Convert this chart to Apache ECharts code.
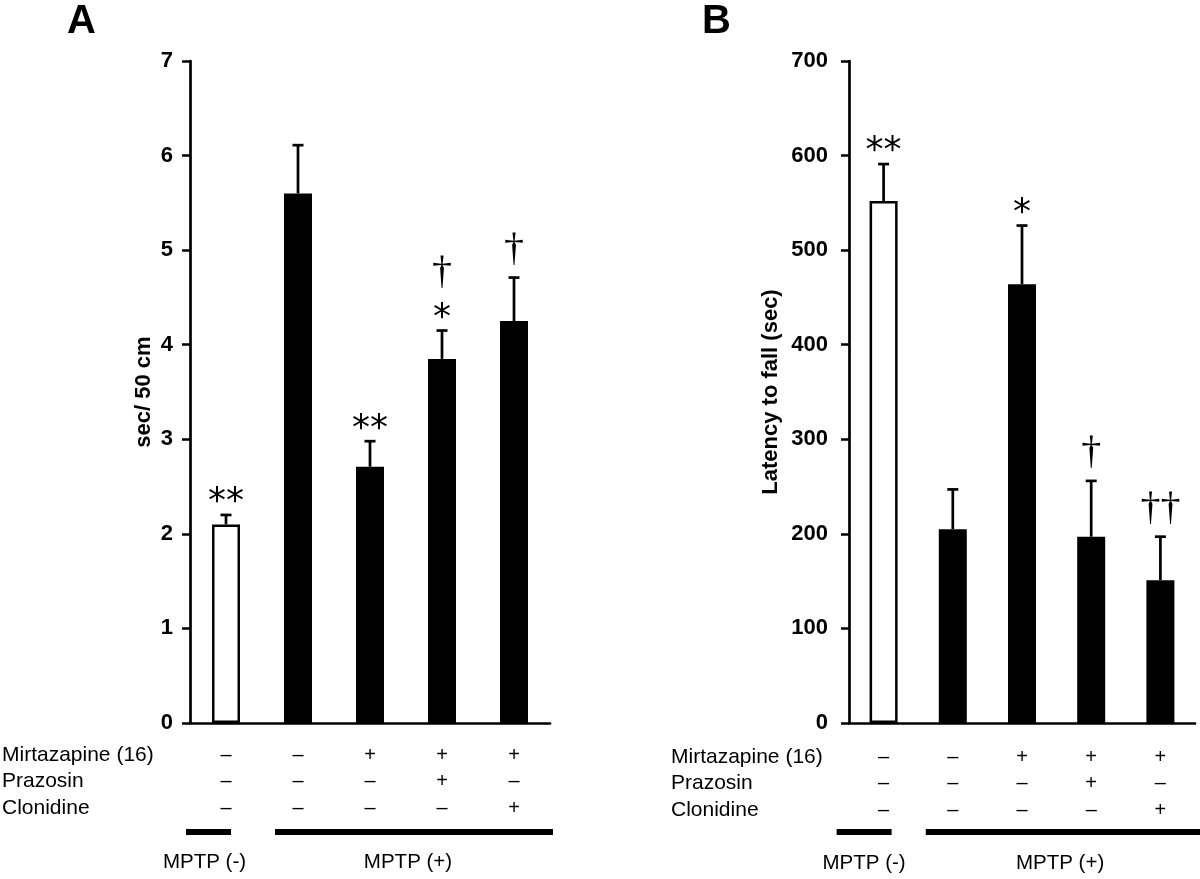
<!DOCTYPE html>
<html>
<head>
<meta charset="utf-8">
<script src="https://cdn.jsdelivr.net/npm/echarts@6/dist/echarts.min.js"></script>
<style>
html,body{margin:0;padding:0;background:#fff;}
#main{width:1200px;height:879px;}
</style>
</head>
<body>
<div id="main"></div>
<script>
// ---- data ----
const groups = ['MPTP(-)', 'MPTP(+)', 'MPTP(+) Mirt', 'MPTP(+) Mirt+Praz', 'MPTP(+) Mirt+Clon'];
const mirtazapine = ['–', '–', '+', '+', '+'];
const prazosin    = ['–', '–', '–', '+', '–'];
const clonidine   = ['–', '–', '–', '–', '+'];
const rowLabels   = ['Mirtazapine (16)', 'Prazosin', 'Clonidine'];

const meanA = [2.10, 5.60, 2.71, 3.85, 4.25];
const semA  = [0.10, 0.51, 0.27, 0.30, 0.46];
const sigA  = [['**'], [], ['**'], ['*', '†'], ['†']];

const meanB = [552, 205, 464, 197, 151];
const semB  = [39, 42, 62, 59, 46];
const sigB  = [['**'], [], ['*'], ['†'], ['††']];

const yTicksA = [0, 7, 1];
const yTicksB = [0, 700, 100];

// ---- chart ----
const chart = echarts.init(document.getElementById('main'));
const FONT = '"Liberation Sans", Arial, sans-serif';
const SYM = '"DejaVu Sans", sans-serif';
const DAG = '"Liberation Serif", "Times New Roman", serif';

function barData(means) {
  return means.map((v, i) => ({
    value: v,
    itemStyle: i === 0
      ? { color: '#fff', borderColor: '#000', borderWidth: 2.5 }
      : { color: '#000', borderColor: '#000', borderWidth: 0 }
  }));
}

function errRender(sigs) {
  return function (params, api) {
    const i = api.value(0);
    const m = api.value(1);
    const s = api.value(2);
    const p0 = api.coord([i, m]);
    const p1 = api.coord([i, m + s]);
    const st = { stroke: '#000', lineWidth: 2.7 };
    const children = [
      { type: 'line', shape: { x1: p0[0], y1: p0[1], x2: p1[0], y2: p1[1] }, style: st },
      { type: 'line', shape: { x1: p0[0] - 5.5, y1: p1[1], x2: p0[0] + 5.5, y2: p1[1] }, style: st }
    ];
    let y = p1[1] - 8;
    (sigs[i] || []).forEach((t) => {
      const isDagger = t.indexOf('†') >= 0;
      children.push({
        type: 'text',
        style: {
          text: t, x: p0[0], y: isDagger ? y : y + 14,
          align: 'center', verticalAlign: 'bottom',
          font: isDagger ? 'normal 40px ' + DAG : 'normal 36px ' + SYM,
          fill: '#000',
          letterSpacing: isDagger ? -4 : -2
        }
      });
      y -= isDagger ? 38 : 30;
    });
    return { type: 'group', children };
  };
}

function xLabel(v, i) {
  return mirtazapine[i] + '\n' + prazosin[i] + '\n' + clonidine[i];
}

function yAxisCfg(grid, ticks, name, margin, nameGap) {
  return {
    type: 'value', gridIndex: grid,
    min: ticks[0], max: ticks[1], interval: ticks[2],
    name: name, nameLocation: 'middle', nameGap: nameGap, nameRotate: 90,
    nameTextStyle: { fontFamily: FONT, fontWeight: 'bold', fontSize: 22, color: '#000' },
    axisLine: { show: true, lineStyle: { color: '#000', width: 2.7 } },
    axisTick: { show: true, length: 8, lineStyle: { color: '#000', width: 2.5 } },
    axisLabel: { fontFamily: FONT, fontWeight: 'bold', fontSize: 22, color: '#000', margin: margin },
    splitLine: { show: false }
  };
}

function xAxisCfg(grid, margin) {
  return {
    type: 'category', gridIndex: grid, data: groups,
    axisLine: { show: true, lineStyle: { color: '#000', width: 2.7 } },
    axisTick: { show: false },
    axisLabel: {
      interval: 0, formatter: xLabel, fontFamily: FONT, fontSize: 20,
      color: '#000', lineHeight: 26.5, margin: margin
    }
  };
}

const option = {
  animation: false,
  backgroundColor: '#fff',
  grid: [
    { left: 190, top: 61, width: 360, height: 662 },
    { left: 849, top: 61, width: 346, height: 662 }
  ],
  xAxis: [xAxisCfg(0, 19), xAxisCfg(1, 21)],
  yAxis: [
    yAxisCfg(0, yTicksA, 'sec/ 50 cm', 17, 35),
    yAxisCfg(1, yTicksB, 'Latency to fall (sec)', 21, 67)
  ],
  series: [
    { type: 'bar', xAxisIndex: 0, yAxisIndex: 0, data: barData(meanA), barWidth: 28 },
    { type: 'custom', xAxisIndex: 0, yAxisIndex: 0, renderItem: errRender(sigA),
      data: meanA.map((m, i) => [i, m, semA[i]]), z: 5 },
    { type: 'bar', xAxisIndex: 1, yAxisIndex: 1, data: barData(meanB), barWidth: 28 },
    { type: 'custom', xAxisIndex: 1, yAxisIndex: 1, renderItem: errRender(sigB),
      data: meanB.map((m, i) => [i, m, semB[i]]), z: 5 }
  ],
  graphic: []
};
chart.setOption(option);

// ---- annotations (row labels, group bars, panel letters) ----
const g = [];
function txt(t, x, y, opts) {
  g.push(Object.assign({ type: 'text', x: x, y: y,
    style: Object.assign({ text: t, font: 'normal 20px ' + FONT, fill: '#000',
      verticalAlign: 'middle' }, opts || {}) }));
}
txt('A', 67, 22, { font: 'bold 40px ' + FONT });
txt('B', 702, 22, { font: 'bold 40px ' + FONT });
const rowYA = [755, 781.5, 808];
const rowYB = [757, 783.5, 810];
rowLabels.forEach((t, k) => {
  txt(t, 2, rowYA[k], { font: 'normal 21px ' + FONT });
  txt(t, 671, rowYB[k], { font: 'normal 21px ' + FONT });
});

function groupBars(xi, pairs, labelY) {
  pairs.forEach(p => {
    const a = chart.convertToPixel({ xAxisIndex: xi }, groups[p.from]);
    const b = chart.convertToPixel({ xAxisIndex: xi }, groups[p.to]);
    const x1 = a + p.dl, x2 = b + p.dr;
    g.push({ type: 'rect', shape: { x: x1, y: 829, width: x2 - x1, height: 6 }, style: { fill: '#000' } });
    txt(p.label, (x1 + x2) / 2 + p.lo, labelY, { align: 'center', font: 'normal 20.5px ' + FONT });
  });
}
groupBars(0, [
  { from: 0, to: 0, dl: -40, dr: 5, label: 'MPTP (-)', lo: -4 },
  { from: 1, to: 4, dl: -23, dr: 39, label: 'MPTP (+)', lo: -6 }
], 862);
groupBars(1, [
  { from: 0, to: 0, dl: -47, dr: 8, label: 'MPTP (-)', lo: 0 },
  { from: 1, to: 4, dl: -27, dr: 40, label: 'MPTP (+)', lo: -3 }
], 863);
chart.setOption({ graphic: g });
</script>
</body>
</html>
